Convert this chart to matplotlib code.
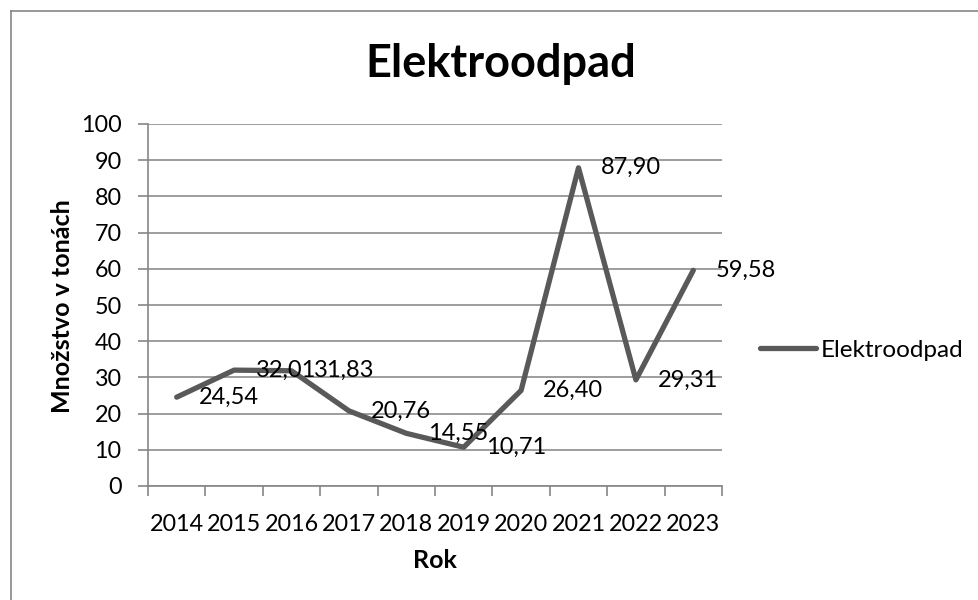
import matplotlib
matplotlib.use("Agg")
import matplotlib.pyplot as plt
from matplotlib.lines import Line2D

plt.rcParams['font.family'] = ['Lato', 'DejaVu Sans']

years = ['2014', '2015', '2016', '2017', '2018', '2019', '2020', '2021', '2022', '2023']
values = [24.54, 32.01, 31.83, 20.76, 14.55, 10.71, 26.40, 87.90, 29.31, 59.58]
series_name = 'Elektroodpad'

W, H = 979, 600
fig = plt.figure(figsize=(W / 100, H / 100), dpi=100)

# outer chart border (only top and left are visible in the picture)
border = '#868686'
fig.add_artist(Line2D([11 / W, 11 / W], [0, 1 - 11 / H], color=border, lw=1.2))
fig.add_artist(Line2D([11 / W, 1], [1 - 11 / H, 1 - 11 / H], color=border, lw=1.2))

ax = fig.add_axes([148 / W, (H - 486) / H, 574 / W, 362 / H])

x = list(range(len(years)))
line_color = '#595959'
ax.plot(x, values, color=line_color, lw=3.8, solid_capstyle='round',
        solid_joinstyle='round', label=series_name)

for xi, v in zip(x, values):
    ax.annotate(f'{v:.2f}'.replace('.', ','), (xi, v), xytext=(22, 0),
                textcoords='offset pixels', ha='left', va='center',
                fontsize=17, color='black')

ax.set_xlim(-0.5, len(years) - 0.5)
ax.set_ylim(0, 100)
ax.set_yticks(range(0, 101, 10))
ax.set_xticks(x)
ax.set_xticklabels(years)
ax.set_xticks([i - 0.5 for i in range(len(years) + 1)], minor=True)

ax.tick_params(axis='x', which='major', length=0, pad=20, labelsize=16.8)
ax.tick_params(axis='x', which='minor', length=7, width=1.2, color=border, direction='out')
ax.tick_params(axis='y', length=7, width=1.2, color=border, pad=12, labelsize=16.8)

ax.grid(axis='y', color='#8c8c8c', lw=1.2)
ax.set_axisbelow(True)
for side in ['top', 'right']:
    ax.spines[side].set_visible(False)
for side in ['left', 'bottom']:
    ax.spines[side].set_color(border)
    ax.spines[side].set_linewidth(1.2)

ax.set_xlabel('Rok', fontsize=18, fontweight='bold')
ax.set_ylabel('Množstvo v tonách', fontsize=18, fontweight='bold')
ax.xaxis.set_label_coords(0.5, (486 - 560) / 362)
ax.xaxis.label.set_va('center')
ax.yaxis.set_label_coords((62 - 148) / 574, (486 - 306) / 362)
ax.yaxis.label.set_va('center')

fig.text(501 / W, 1 - 64 / H, 'Elektroodpad', ha='center', va='center',
         fontsize=32.5, fontweight='bold')

fig.legend(loc='center left', bbox_to_anchor=(760 / W, 1 - 350 / H), frameon=False,
           borderpad=0, borderaxespad=0, handlelength=2.3, handletextpad=0.2,
           fontsize=17.5)

fig.savefig('out.png', dpi=100)
